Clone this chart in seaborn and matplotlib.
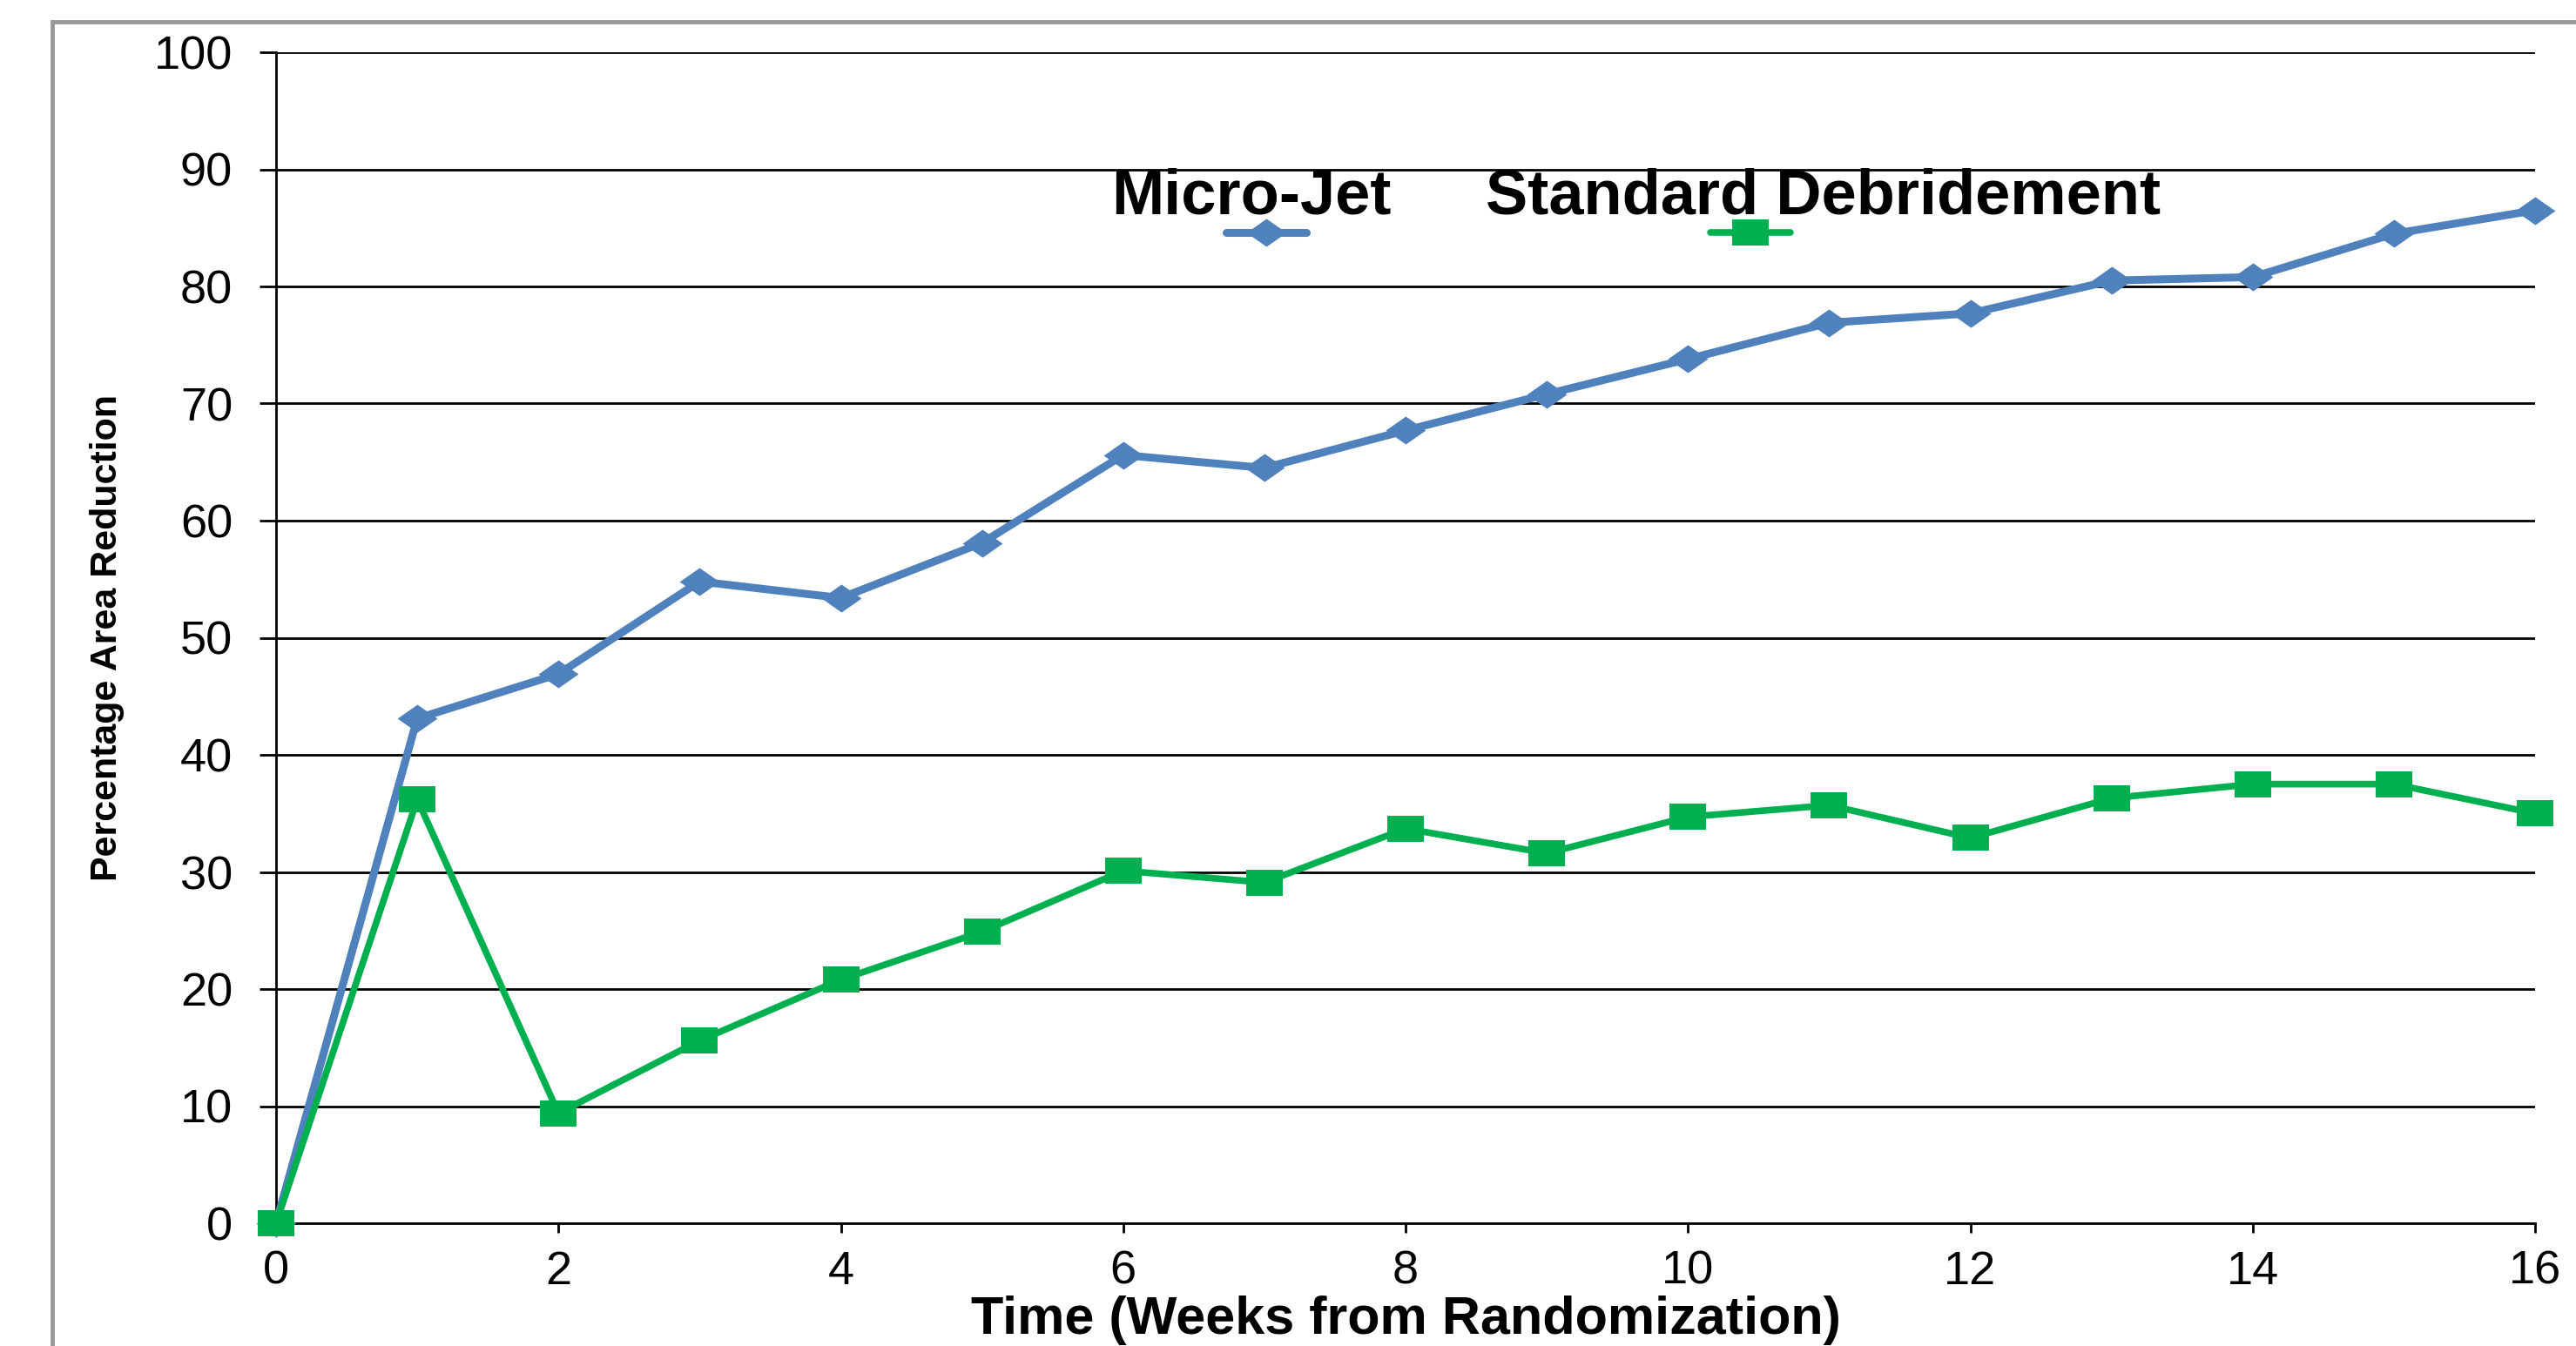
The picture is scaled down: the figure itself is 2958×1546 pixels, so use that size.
import matplotlib
matplotlib.use("Agg")
import matplotlib.pyplot as plt
from matplotlib.lines import Line2D
from matplotlib.patches import Rectangle
import seaborn as sns
import pandas as pd

# ---- data ----
weeks = [0, 1, 2, 3, 4, 5, 6, 7, 8, 9, 10, 11, 12, 13, 14, 15, 16]
micro_jet = [0, 43.1, 46.9, 54.8, 53.4, 58.1, 65.6, 64.5, 67.7, 70.8, 73.8, 76.9, 77.7, 80.5, 80.8, 84.5, 86.5]
standard_debridement = [0, 36.2, 9.4, 15.6, 20.8, 24.9, 30.1, 29.1, 33.7, 31.6, 34.7, 35.7, 32.9, 36.3, 37.5, 37.5, 35.0]
series_names = ["Micro-Jet", "Standard Debridement"]
x_ticks = [0, 2, 4, 6, 8, 10, 12, 14, 16]
y_ticks = [0, 10, 20, 30, 40, 50, 60, 70, 80, 90, 100]
x_label = "Time (Weeks from Randomization)"
y_label = "Percentage Area Reduction"

# ---- style ----
sns.set_theme(style="white")
plt.rcParams['font.family'] = ['Liberation Sans', 'DejaVu Sans']

BLUE = "#4F81BD"
GREEN = "#00B050"
diamond = [(-1, 0), (0, -0.7), (1, 0), (0, 0.7), (-1, 0)]
square = [(-1, -0.7), (1, -0.7), (1, 0.7), (-1, 0.7), (-1, -0.7)]

W, H = 2958, 1546
fig = plt.figure(figsize=(W / 100, H / 100), dpi=100)
ax = fig.add_axes([317 / W, 1 - 1405 / H, (2911 - 317) / W, (1405 - 60) / H])

df_mj = pd.DataFrame({"week": weeks, "value": micro_jet})
df_sd = pd.DataFrame({"week": weeks, "value": standard_debridement})

sns.lineplot(data=df_mj, x="week", y="value", ax=ax, color=BLUE, linewidth=6.5,
             marker=diamond, markersize=33, markeredgewidth=0, markerfacecolor=BLUE,
             clip_on=False, zorder=3, label=series_names[0], legend=False)
sns.lineplot(data=df_sd, x="week", y="value", ax=ax, color=GREEN, linewidth=5.5,
             marker=square, markersize=30, markeredgewidth=0, markerfacecolor=GREEN,
             clip_on=False, zorder=4, label=series_names[1], legend=False)

ax.set_xlim(0, 16)
ax.set_ylim(0, 100)
ax.set_xticks(x_ticks)
ax.set_yticks(y_ticks)
ax.grid(axis='y', color='black', linewidth=2)
ax.grid(axis='x', visible=False)
for s in ['top', 'right']:
    ax.spines[s].set_visible(False)
for s in ['left', 'bottom']:
    ax.spines[s].set_color('black')
    ax.spines[s].set_linewidth(2)
ax.tick_params(axis='y', direction='out', length=14, width=2, color='black',
               labelsize=39, pad=22, left=True)
ax.tick_params(axis='x', direction='out', length=8, width=2, color='black',
               labelsize=39, pad=14, bottom=True)
for lab in ax.get_xticklabels() + ax.get_yticklabels():
    lab.set_color('black')

ax.set_xlabel(x_label, fontsize=44, fontweight='bold', color='black')
ax.xaxis.set_label_coords(0.5, -0.062)
ax.set_ylabel(y_label, fontsize=31, fontweight='bold', color='black')
ax.yaxis.set_label_coords(-0.067, 0.5)

# ---- legend: labels above, handles below ----
lines = ax.get_lines()[:2]
blank = [Line2D([], [], linestyle='none') for _ in series_names]
leg_text = ax.legend(blank, series_names, loc='center', ncol=2,
                     bbox_to_anchor=(1879 / W, 1 - 226 / H), bbox_transform=fig.transFigure,
                     frameon=False, handlelength=0, handletextpad=0, columnspacing=1.5,
                     prop={'size': 52, 'weight': 'bold'})
for t in leg_text.get_texts():
    t.set_color('black')
ax.add_artist(leg_text)
leg_h = ax.legend(lines, ["", ""], loc='center', ncol=2,
                  bbox_to_anchor=(1732 / W, 1 - 270 / H), bbox_transform=fig.transFigure,
                  frameon=False, handlelength=3.3, handletextpad=0, columnspacing=16.7,
                  prop={'size': 20}, numpoints=1)

# outer grey frame (only top and left edges visible)
top = 1 - 25 / H
fig.patches.append(Rectangle((60 / W, -0.2), 1.5, top + 0.2,
                             transform=fig.transFigure, fill=False,
                             edgecolor='#9a9a9a', linewidth=3.5, zorder=0))

fig.savefig("out.png", dpi=100)
